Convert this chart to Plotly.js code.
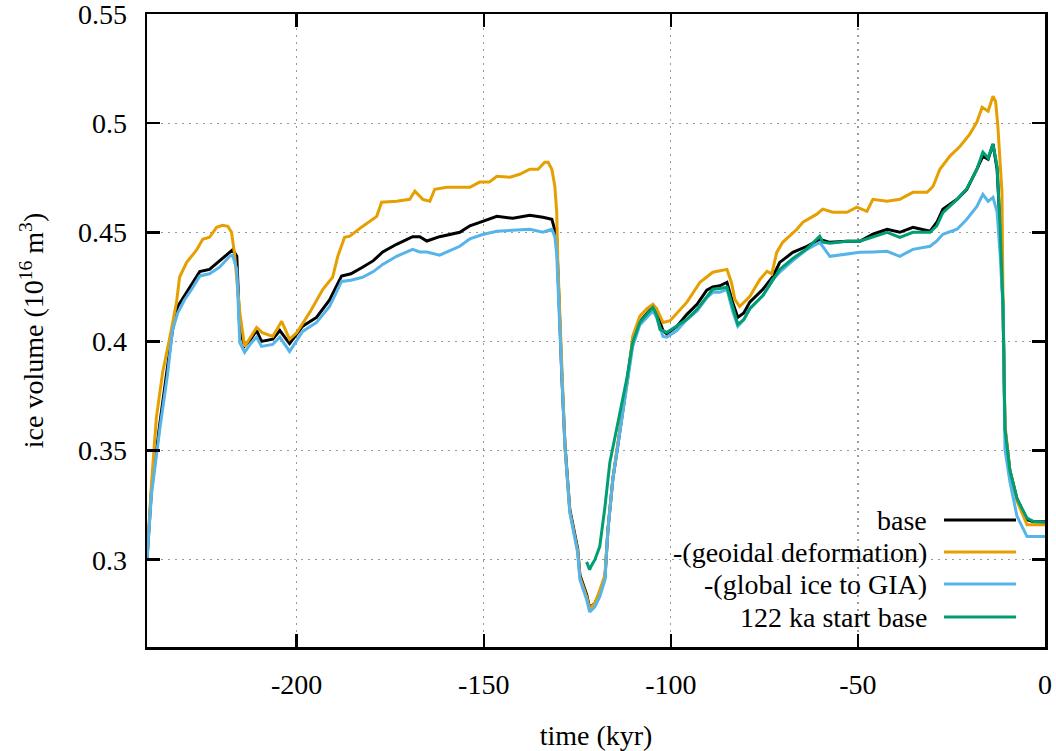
<!DOCTYPE html>
<html>
<head>
<meta charset="utf-8">
<script src="https://cdn.plot.ly/plotly-3.0.1.min.js"></script>
<style>html,body{margin:0;padding:0;background:#fff;}#chart{width:1056px;height:751px;}</style>
</head>
<body>
<div id="chart"></div>
<script>
// ---- data (time in kyr, ice volume in 1e16 m^3) ----
const seriesNames = ["base", "-(geoidal deformation)", "-(global ice to GIA)", "122 ka start base"];
const seriesColors = ["#000000", "#E69F00", "#56B4E9", "#009E73"];

const tBase = [
  -240, -238.8, -236.6, -234.5, -233.2, -231.8, -230, -228, -225.9, -223.3,
  -220.6, -217.9, -217.1, -216.0, -215.2, -213.9, -212.3, -210.7, -209.4, -206.4,
  -204.5, -201.9, -198.4, -194.7, -191.2, -188.0, -185.5, -182.4, -179.5, -177.0,
  -173.3, -169.0, -167.1, -165.2, -161.8, -156.4, -153.7, -150.3, -146.5, -142.2,
  -137.7, -134.2, -131.8, -131.0, -130.5, -129.1, -128.3, -127.0, -125.7, -124.9,
  -124.3, -122.5, -121.7, -120.3, -119.0, -117.6, -116.8, -115.5, -114.2, -112.8,
  -111.5, -110.2, -108.3, -106.4, -104.8, -103.8, -102.1, -101.1, -98.4, -95.7,
  -93.0, -90.4, -88.8, -86.9, -85.0, -83.5, -82.1, -80.5, -78.9, -75.4,
  -72.7, -70.9, -67.4, -63.6, -60.2, -57.5, -52.9, -49.5, -46.0, -42.2,
  -38.8, -35.3, -30.7, -28.9, -27.3, -23.5, -20.9, -18.2, -16.6, -15.2,
  -13.9, -12.8, -12.0, -11.2, -10.7, -9.4, -7.5, -4.8, -3, 0
];
const vBase = [
  0.300, 0.332, 0.362, 0.390, 0.405, 0.416, 0.421, 0.426, 0.432, 0.433,
  0.437, 0.441, 0.442, 0.439, 0.405, 0.398, 0.401, 0.405, 0.400, 0.401,
  0.405, 0.399, 0.407, 0.411, 0.419, 0.430, 0.431, 0.434, 0.437, 0.441,
  0.4445, 0.448, 0.448, 0.446, 0.448, 0.450, 0.453, 0.455, 0.4573, 0.4564,
  0.4578, 0.4569, 0.456, 0.451, 0.447, 0.383, 0.353, 0.323, 0.311, 0.305,
  0.293, 0.284, 0.278, 0.280, 0.285, 0.292, 0.314, 0.337, 0.352, 0.368,
  0.383, 0.400, 0.409, 0.413, 0.416, 0.413, 0.405, 0.4035, 0.4069, 0.4124,
  0.417, 0.4235, 0.425, 0.4255, 0.4271, 0.418, 0.411, 0.413, 0.418, 0.4239,
  0.4298, 0.4362, 0.4408, 0.4436, 0.4468, 0.4454, 0.4459, 0.4459, 0.4491, 0.4514,
  0.450, 0.4523, 0.4505, 0.4546, 0.4606, 0.4651, 0.4697, 0.4789, 0.4849, 0.4835,
  0.4904, 0.4789, 0.4527, 0.4147, 0.360, 0.341, 0.328, 0.3183, 0.3174, 0.3174
];

const tGeoid = [
  -240, -238.8, -237.5, -235.8, -234.0, -232.1, -231.3, -229.4, -226.7, -225.1,
  -223.3, -221.4, -219.8, -218.4, -217.4, -216.6, -215.2, -213.9, -210.7, -209.2,
  -206.4, -204.0, -201.9, -200.0, -196.5, -193.0, -190.4, -189.0, -187.2, -185.8,
  -182.4, -178.6, -177.3, -173.3, -169.8, -168.4, -166.3, -164.4, -163.1, -159.9,
  -156.4, -153.7, -151.1, -148.5, -146.5, -143.0, -140.4, -137.7, -135.5, -133.7,
  -132.8, -131.8, -131.0, -130.5, -130.2, -129.1, -128.3, -127.0, -125.7, -124.9,
  -124.3, -122.5, -121.7, -120.3, -119.0, -117.6, -116.8, -115.5, -114.2, -112.8,
  -111.5, -110.2, -108.3, -106.4, -104.8, -103.8, -102.1, -100.2, -97.6, -95.7,
  -92.2, -88.8, -85.0, -83.8, -82.9, -81.6, -78.9, -76.2, -74.3, -73.0,
  -71.7, -70.1, -66.3, -64.7, -61.0, -59.4, -56.7, -52.9, -50.3, -47.6,
  -46.0, -42.2, -38.8, -35.3, -31.5, -29.9, -28.1, -25.4, -22.7, -20.1,
  -18.2, -16.8, -15.2, -13.9, -13.2, -12.6, -11.5, -11.2, -10.7, -9.4,
  -7.5, -4.8, -3, 0
];
const vGeoid = [
  0.300, 0.335, 0.365, 0.386, 0.401, 0.418, 0.4294, 0.4362, 0.442, 0.4468,
  0.4477, 0.4523, 0.4532, 0.4527, 0.450, 0.440, 0.4133, 0.3977, 0.4064, 0.404,
  0.4023, 0.4092, 0.401, 0.404, 0.4133, 0.4239, 0.4294, 0.439, 0.4477, 0.4482,
  0.4527, 0.4573, 0.4638, 0.4642, 0.4651, 0.4688, 0.4651, 0.4642, 0.4697, 0.4706,
  0.4706, 0.4706, 0.473, 0.473, 0.4757, 0.4752, 0.4766, 0.4789, 0.4789, 0.4821,
  0.4821, 0.4789, 0.4711, 0.4592, 0.436, 0.383, 0.352, 0.322, 0.310, 0.304,
  0.292, 0.283, 0.2775, 0.280, 0.286, 0.293, 0.314, 0.337, 0.353, 0.368,
  0.383, 0.4023, 0.4115, 0.415, 0.417, 0.415, 0.4087, 0.4095, 0.4147, 0.418,
  0.4271, 0.4317, 0.433, 0.427, 0.4193, 0.416, 0.4206, 0.4284, 0.4321, 0.431,
  0.4408, 0.4454, 0.4514, 0.4546, 0.4583, 0.4606, 0.4592, 0.4592, 0.4615, 0.4596,
  0.4651, 0.4642, 0.4651, 0.4683, 0.4683, 0.4711, 0.4789, 0.4849, 0.4894, 0.4950,
  0.5005, 0.5073, 0.5055, 0.5124, 0.510, 0.4986, 0.4683, 0.4147, 0.362, 0.341,
  0.327, 0.316, 0.316, 0.316
];

const tGlobal = tBase.slice();
const vGlobal = [
  0.300, 0.330, 0.3596, 0.385, 0.405, 0.413, 0.419, 0.424, 0.430, 0.431,
  0.434, 0.439, 0.4395, 0.433, 0.3995, 0.395, 0.399, 0.402, 0.3977, 0.3986,
  0.402, 0.3954, 0.4046, 0.4087, 0.416, 0.4275, 0.428, 0.4294, 0.432, 0.4353,
  0.439, 0.4422, 0.441, 0.441, 0.4395, 0.4436, 0.447, 0.449, 0.4505, 0.451,
  0.4514, 0.450, 0.4514, 0.448, 0.440, 0.3826, 0.3518, 0.3216, 0.3092, 0.3032,
  0.2908, 0.2817, 0.2761, 0.2784, 0.283, 0.2908, 0.3138, 0.3367, 0.3518, 0.3674,
  0.3826, 0.3977, 0.4075, 0.411, 0.414, 0.411, 0.4023, 0.402, 0.405, 0.410,
  0.414, 0.420, 0.4225, 0.4225, 0.4239, 0.414, 0.4069, 0.410, 0.415, 0.421,
  0.4285, 0.4317, 0.437, 0.4422, 0.4454, 0.439, 0.440, 0.4408, 0.441, 0.4413,
  0.439, 0.4422, 0.4436, 0.446, 0.4491, 0.4514, 0.456, 0.4619, 0.4674, 0.4642,
  0.466, 0.4592, 0.440, 0.4147, 0.3505, 0.336, 0.320, 0.3106, 0.3106, 0.3106
];

const tStart = [
  -122.5, -121.7, -121.3, -120.3, -119.0, -117.6, -116.3, -115.0, -113.6, -111.8,
  -110.2, -108.3, -106.4, -104.8, -103.8, -102.9, -101.1, -98.4, -95.7, -93.0,
  -90.4, -88.8, -86.9, -85.0, -83.5, -82.1, -80.5, -78.9, -75.4, -72.7,
  -70.9, -67.4, -63.6, -60.2, -59.4, -57.5, -52.9, -49.5, -46.0, -42.2,
  -38.8, -35.3, -30.7, -28.9, -27.3, -23.5, -20.9, -18.2, -16.6, -15.2,
  -13.9, -12.8, -12.0, -11.2, -10.7, -9.4, -7.5, -4.8, -3, 0
];
const vStart = [
  0.299, 0.2954, 0.297, 0.300, 0.306, 0.3243, 0.3445, 0.3564, 0.3674, 0.3826,
  0.3995, 0.4087, 0.4124, 0.4156, 0.412, 0.4055, 0.4041, 0.4069, 0.4101, 0.4147,
  0.4206, 0.4239, 0.4243, 0.4248, 0.416, 0.4078, 0.410, 0.415, 0.421, 0.428,
  0.433, 0.438, 0.4425, 0.4482, 0.4455, 0.445, 0.4459, 0.4459, 0.448, 0.450,
  0.4477, 0.450, 0.450, 0.453, 0.459, 0.4651, 0.470, 0.4789, 0.4867, 0.484,
  0.4904, 0.480, 0.4527, 0.4147, 0.360, 0.341, 0.328, 0.319, 0.3175, 0.3172
];

const xTicks = [-200, -150, -100, -50, 0];
const xTickText = ["-200", "-150", "-100", "-50", "0"];
const yTicks = [0.3, 0.35, 0.4, 0.45, 0.5, 0.55];
const yTickText = ["0.3", "0.35", "0.4", "0.45", "0.5", "0.55"];

// ---- build ----
const xs = [tBase, tGeoid, tGlobal, tStart];
const ys = [vBase, vGeoid, vGlobal, vStart];
const traces = seriesNames.map((n, i) => ({
  type: 'scatter', mode: 'lines', name: n,
  x: xs[i], y: ys[i],
  line: {color: seriesColors[i], width: 3},
  showlegend: false, hoverinfo: 'skip'
}));

const FONT = 'Liberation Serif, Times New Roman, serif';
const P = {l: 147, r: 11, t: 14, b: 104};
const W = 1056, H = 751;
const pw = W - P.l - P.r, ph = H - P.t - P.b;
const px = v => (v - P.l) / pw;
const py = v => (H - P.b - v) / ph;

// legend (gnuplot style: text right, sample line to the right)
const legRows = [520, 552, 584, 617];
const annotations = [];
const shapes = [{
  type: 'rect', xref: 'paper', yref: 'paper', layer: 'between',
  x0: px(608), x1: 1, y0: 0, y1: py(502),
  fillcolor: '#ffffff', line: {width: 0}
}];
seriesNames.forEach((n, i) => {
  annotations.push({
    xref: 'paper', yref: 'paper', x: px(929), y: py(legRows[i]),
    xanchor: 'right', yanchor: 'middle', showarrow: false,
    text: n, font: {family: FONT, size: 28, color: '#000'}
  });
  shapes.push({
    type: 'line', xref: 'paper', yref: 'paper', layer: 'above',
    x0: px(944), x1: px(1016), y0: py(legRows[i]), y1: py(legRows[i]),
    line: {color: seriesColors[i], width: 3}
  });
});

const axisCommon = {
  showline: true, linecolor: '#000', linewidth: 2.5, mirror: 'ticks',
  ticks: 'inside', ticklen: 13, tickwidth: 2.5, tickcolor: '#000',
  showgrid: true, gridcolor: '#9a9a9a', gridwidth: 1.3, griddash: '1.5px,5.5px',
  zeroline: false, automargin: false, ticklabeloverflow: 'allow',
  tickfont: {family: FONT, size: 28, color: '#000'}
};

const layout = {
  width: W, height: H, margin: P,
  paper_bgcolor: '#fff', plot_bgcolor: '#fff',
  showlegend: false, hovermode: false,
  font: {family: FONT, size: 28, color: '#000'},
  xaxis: Object.assign({}, axisCommon, {
    range: [-240, 0.0001], tickmode: 'array', tickvals: xTicks, ticktext: xTickText,
    ticklabelstandoff: 11,
    title: {text: 'time (kyr)', font: {family: FONT, size: 28, color: '#000'}, standoff: 30}
  }),
  yaxis: Object.assign({}, axisCommon, {
    range: [0.26, 0.55001], tickmode: 'array', tickvals: yTicks, ticktext: yTickText,
    ticklabelstandoff: 12,
    title: {text: 'ice volume (10<sup>16</sup> m<sup>3</sup>)', font: {family: FONT, size: 28, color: '#000'}, standoff: 26}
  }),
  annotations: annotations,
  shapes: shapes
};

Plotly.newPlot('chart', traces, layout, {displayModeBar: false, staticPlot: true});
</script>
</body>
</html>
